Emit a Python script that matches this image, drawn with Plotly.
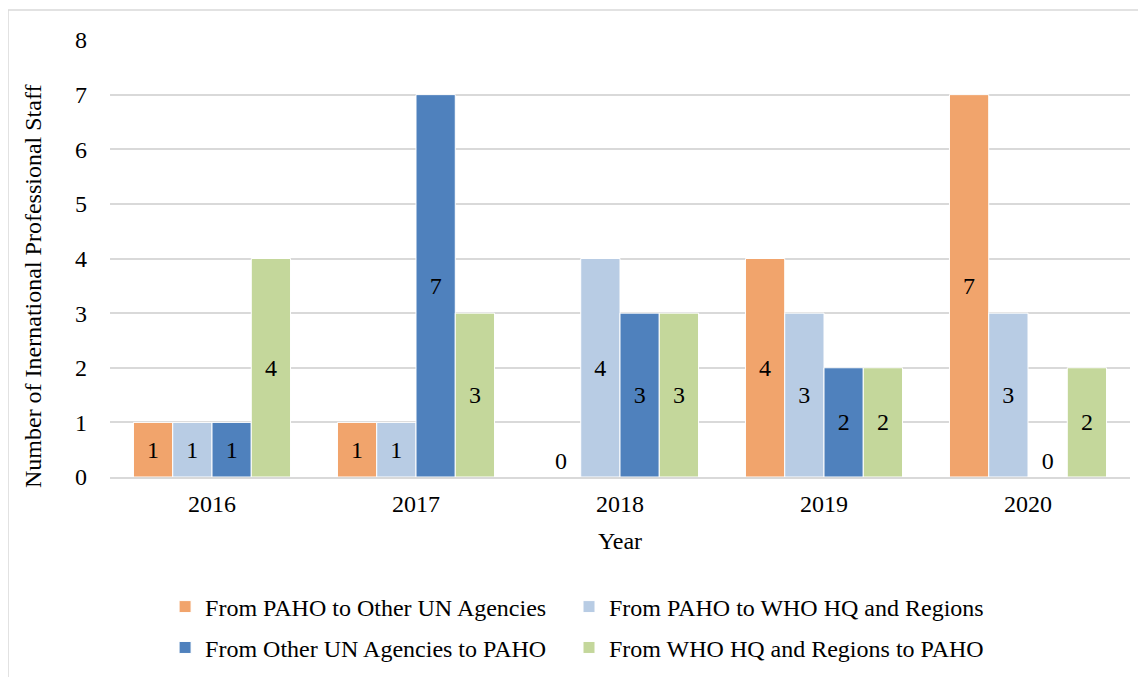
import plotly.graph_objects as go

years = ["2016", "2017", "2018", "2019", "2020"]
series_names = [
    "From PAHO to Other UN Agencies",
    "From PAHO to WHO HQ and Regions",
    "From Other UN Agencies to PAHO",
    "From WHO HQ and Regions to PAHO",
]
paho_to_un = [1, 1, 0, 4, 7]
paho_to_who = [1, 1, 4, 3, 3]
un_to_paho = [1, 7, 3, 2, 0]
who_to_paho = [4, 3, 3, 2, 2]

COLORS = ["#F1A46C", "#B8CCE4", "#4F81BD", "#C4D79B"]
FONT = "Liberation Serif, Times New Roman, serif"
FS = 24

# one legend per entry so the 2x2 grid lines up like the original
legend_ids = ["legend", "legend2", "legend3", "legend4"]
legend_pos = [(0.054, -0.2975), (0.450, -0.2975), (0.054, -0.391), (0.450, -0.391)]

fig = go.Figure()
for name, vals, col, lg in zip(series_names,
                               [paho_to_un, paho_to_who, un_to_paho, who_to_paho],
                               COLORS, legend_ids):
    fig.add_trace(go.Bar(
        x=years, y=vals, name=name, legend=lg,
        marker=dict(color=col, line=dict(color="white", width=1)),
        text=[str(v) for v in vals],
        textposition=["outside" if v == 0 else "inside" for v in vals],
        insidetextanchor="middle",
        textfont=dict(family=FONT, size=FS, color="black"),
        constraintext="none",
        cliponaxis=False,
    ))

# light frame around the chart (cropped on the right and bottom)
fig.add_shape(type="rect", xref="paper", yref="paper",
              x0=-0.1, x1=1.2, y0=-0.8, y1=1.0686,
              line=dict(color="#D9D9D9", width=1.5), fillcolor="rgba(0,0,0,0)", layer="below")

# y title as annotation so it can sit a bit lower, like the original
fig.add_annotation(text="Number of Inernational Professional Staff", textangle=-90,
                   xref="paper", yref="paper", x=-0.0755, y=0.437,
                   xanchor="center", yanchor="middle",
                   showarrow=False, font=dict(family=FONT, size=FS, color="black"))

legends = {}
for lg, (lx, ly) in zip(legend_ids, legend_pos):
    legends[lg] = dict(orientation="h", xanchor="left", yanchor="middle", x=lx, y=ly,
                       font=dict(family=FONT, size=FS), itemwidth=30,
                       bgcolor="rgba(0,0,0,0)")

fig.update_layout(
    width=1146, height=677,
    margin=dict(l=102, r=24, t=32, b=208),
    plot_bgcolor="white", paper_bgcolor="white",
    barmode="group", bargap=0.23, bargroupgap=0,
    font=dict(family=FONT, size=FS, color="black"),
    showlegend=True,
    **legends,
)
fig.update_yaxes(range=[0, 8], dtick=1, showgrid=True, gridcolor="#D9D9D9", gridwidth=1.5,
                 zeroline=False, showline=False, ticklabelstandoff=22)
fig.update_xaxes(showline=True, linecolor="#D9D9D9", linewidth=1.5, ticks="",
                 ticklabelstandoff=4,
                 title=dict(text="Year", standoff=17, font=dict(size=FS)))

fig.write_html("out.html")
